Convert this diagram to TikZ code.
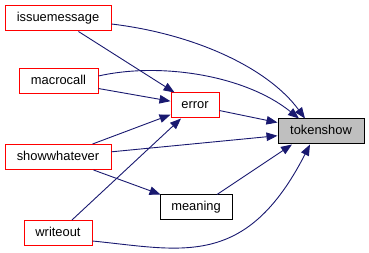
\documentclass[tikz,border=0pt]{standalone}
\usepackage{fontspec}
\setmainfont{Liberation Sans}
\usetikzlibrary{arrows.meta}
\definecolor{edgeblue}{HTML}{191970}
\definecolor{mainfill}{HTML}{BFBFBF}
\begin{document}
\begin{tikzpicture}[x=1pt,y=-1pt,
  fn/.style={draw=red, line width=1pt, fill=white, minimum height=25pt,
    inner sep=0pt, text height=9.5pt, text depth=2.5pt,
    font=\fontsize{12.9}{15}\selectfont},
  plainfn/.style={fn, draw=black},
  mainfn/.style={fn, draw=black, fill=mainfill},
  call/.style={draw=edgeblue, line width=0.9pt,
    -{Triangle[length=11pt,width=8.5pt]}, fill=none}]
\useasboundingbox (0,0) rectangle (369,253);

% functions
\node[fn, minimum width=106pt] (issuemessage) at (58,18.5) {issuemessage};
\node[fn, minimum width=79pt] (macrocall) at (58.5,81.5) {macrocall};
\node[fn, minimum width=48pt] (error) at (195,105.5) {error};
\node[mainfn, minimum width=86pt] (tokenshow) at (321,131.5) {tokenshow};
\node[fn, minimum width=106pt] (showwhatever) at (58,157) {showwhatever};
\node[plainfn, minimum width=72pt] (meaning) at (196,207.5) {meaning};
\node[fn, minimum width=68pt] (writeout) at (58,233) {writeout};

% straight calls
\draw[call] (issuemessage) -- (error);
\draw[call] (macrocall) -- (error);
\draw[call] (showwhatever) -- (error);
\draw[call] (writeout) -- (error);
\draw[call] (error) -- (tokenshow);
\draw[call] (showwhatever) -- (tokenshow);
\draw[call] (showwhatever) -- (meaning);
\draw[call] ([xshift=21pt]meaning.north) -- ([xshift=-29pt]tokenshow.south);

% curved calls
\draw[call] ([yshift=-5.5pt]issuemessage.east)
  .. controls (195,34) and (268,68) .. ([xshift=-16pt]tokenshow.north);
\draw[call] ([yshift=5.5pt]macrocall.east)
  .. controls (160,62) and (245,75) .. ([xshift=-22pt]tokenshow.north);
\draw[call] ([yshift=-8pt]writeout.east)
  .. controls (182,250) and (246,269.5) .. ([xshift=-11pt]tokenshow.south);
\end{tikzpicture}
\end{document}
